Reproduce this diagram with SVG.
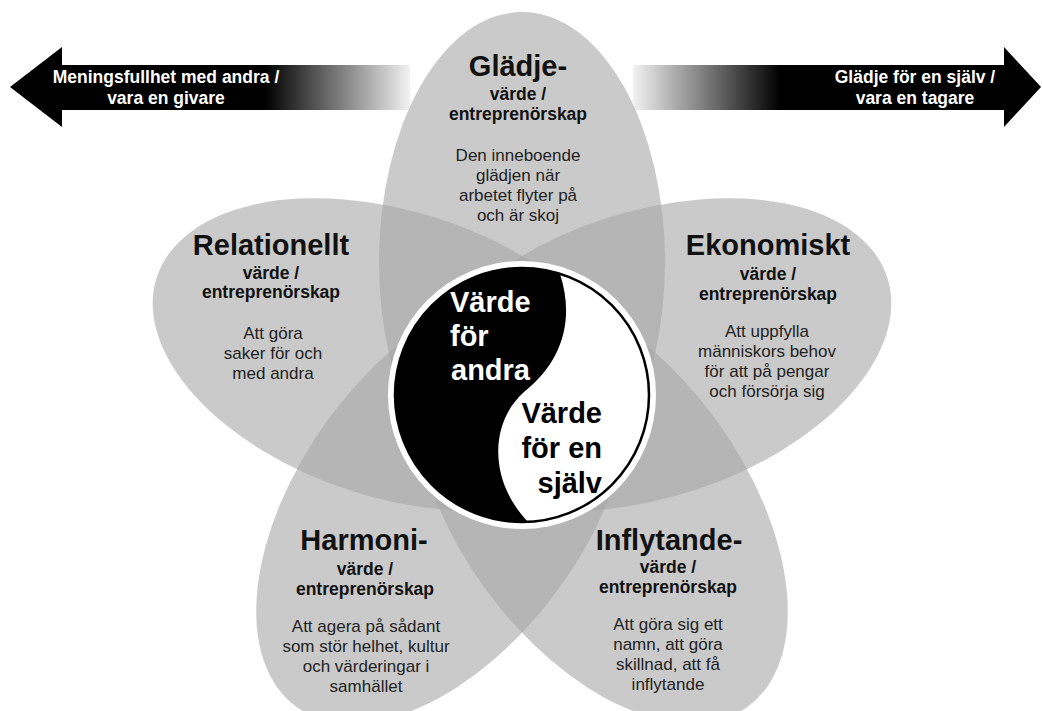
<svg xmlns="http://www.w3.org/2000/svg" width="1042" height="711" viewBox="0 0 1042 711">
<defs>
<linearGradient id="gl" gradientUnits="userSpaceOnUse" x1="410" y1="0" x2="265" y2="0">
<stop offset="0" stop-color="#f2f2f2"/><stop offset="1" stop-color="#000"/>
</linearGradient>
<linearGradient id="gr" gradientUnits="userSpaceOnUse" x1="633" y1="0" x2="780" y2="0">
<stop offset="0" stop-color="#f2f2f2"/><stop offset="1" stop-color="#000"/>
</linearGradient>
<style>
.petal{fill:#a6a6a6;fill-opacity:0.6}
text{font-family:"Liberation Sans",Arial,sans-serif;text-anchor:middle}
.t{font-size:29px;font-weight:bold;fill:#111}
.s{font-size:17.5px;font-weight:bold;fill:#111}
.d{font-size:17px;fill:#222}
.a{font-size:17.5px;font-weight:bold;fill:#fff}
.yw{font-size:29px;font-weight:bold;fill:#fff;text-anchor:start}
.yb{font-size:29px;font-weight:bold;fill:#000;text-anchor:end}
</style>
</defs>
<rect width="1042" height="711" fill="#fff"/>
<g id="arrow-left">
<polygon points="10,87 62,47 62,65 410,65 410,110 62,110 62,127" fill="url(#gl)"/>
<text class="a" x="166" y="83">Meningsfullhet med andra /</text>
<text class="a" x="166" y="104">vara en givare</text>
</g>
<g id="arrow-right">
<polygon points="633,65 1004,65 1004,47 1041,87 1004,127 1004,110 633,110" fill="url(#gr)"/>
<text class="a" x="915" y="83">Glädje för en själv /</text>
<text class="a" x="915" y="104">vara en tagare</text>
</g>
<g id="petals">
<ellipse class="petal" cx="522" cy="262" rx="143" ry="250"/>
<ellipse class="petal" cx="522" cy="262" rx="143" ry="250" transform="rotate(72 522 396)"/>
<ellipse class="petal" cx="522" cy="262" rx="143" ry="250" transform="rotate(144 522 396)"/>
<ellipse class="petal" cx="522" cy="262" rx="143" ry="250" transform="rotate(216 522 396)"/>
<ellipse class="petal" cx="522" cy="262" rx="143" ry="250" transform="rotate(288 522 396)"/>
</g>
<g id="gladje">
<text class="t" x="518" y="76">Glädje-</text>
<text class="s" x="518" y="100">värde /</text>
<text class="s" x="518" y="120">entreprenörskap</text>
<text class="d" x="518" y="161">Den inneboende</text>
<text class="d" x="518" y="181">glädjen när</text>
<text class="d" x="518" y="201">arbetet flyter på</text>
<text class="d" x="518" y="221">och är skoj</text>
</g>
<g id="relationellt">
<text class="t" x="271" y="255">Relationellt</text>
<text class="s" x="271" y="279">värde /</text>
<text class="s" x="271" y="298">entreprenörskap</text>
<text class="d" x="273" y="339">Att göra</text>
<text class="d" x="273" y="359">saker för och</text>
<text class="d" x="273" y="379">med andra</text>
</g>
<g id="ekonomiskt">
<text class="t" x="768" y="255">Ekonomiskt</text>
<text class="s" x="768" y="280">värde /</text>
<text class="s" x="768" y="300">entreprenörskap</text>
<text class="d" x="767" y="337">Att uppfylla</text>
<text class="d" x="767" y="357">människors behov</text>
<text class="d" x="767" y="377">för att på pengar</text>
<text class="d" x="767" y="397">och försörja sig</text>
</g>
<g id="harmoni">
<text class="t" x="364" y="550">Harmoni-</text>
<text class="s" x="365" y="575">värde /</text>
<text class="s" x="365" y="595">entreprenörskap</text>
<text class="d" x="366" y="632">Att agera på sådant</text>
<text class="d" x="366" y="652">som stör helhet, kultur</text>
<text class="d" x="366" y="672">och värderingar i</text>
<text class="d" x="366" y="692">samhället</text>
</g>
<g id="inflytande">
<text class="t" x="669" y="550">Inflytande-</text>
<text class="s" x="668" y="573">värde /</text>
<text class="s" x="668" y="593">entreprenörskap</text>
<text class="d" x="668" y="630">Att göra sig ett</text>
<text class="d" x="668" y="650">namn, att göra</text>
<text class="d" x="668" y="670">skillnad, att få</text>
<text class="d" x="668" y="690">inflytande</text>
</g>
<g id="center">
<circle cx="522" cy="395" r="134" fill="#fff"/>
<circle cx="522" cy="395" r="127" fill="#fff" stroke="#000" stroke-width="2.5"/>
<path d="M560 274 C575 320 562 362 524 392 C490 422 488 480 528 522 A127 127 0 1 1 560 274 Z" fill="#000"/>
<text class="yw" x="450" y="312">Värde</text>
<text class="yw" x="450" y="346">för</text>
<text class="yw" x="451" y="380">andra</text>
<text class="yb" x="602" y="423">Värde</text>
<text class="yb" x="602" y="458">för en</text>
<text class="yb" x="602" y="493">själv</text>
</g>
</svg>
